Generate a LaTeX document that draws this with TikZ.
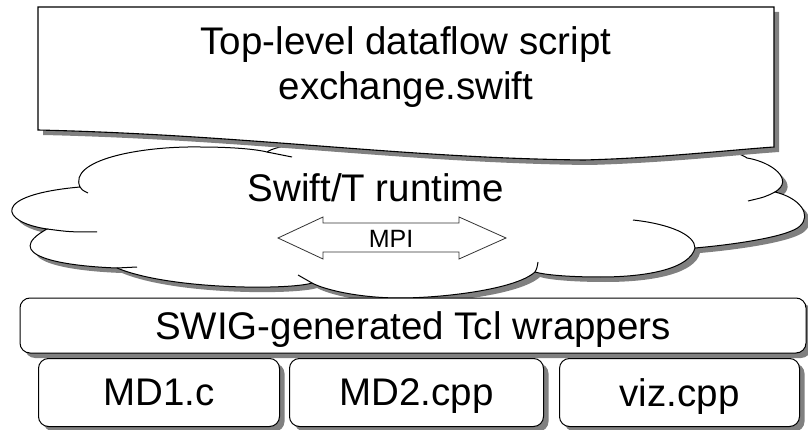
\documentclass[tikz,border=0pt]{standalone}
\usepackage{fontspec}
\setmainfont{Liberation Sans}
\usepackage{tikz}
\usetikzlibrary{positioning,shadows}
\tikzstyle{shadowed} = [drop shadow={shadow xshift=5pt, shadow yshift=-5pt, fill=black!50, opacity=1}]
\tikzstyle{docshape} = [draw, fill=white, line width=1.1pt, shadowed]
\tikzstyle{cloudshape} = [draw, fill=white, line width=1pt, shadowed]
\tikzstyle{layerbox} = [draw, fill=white, rounded corners=10pt, line width=1pt, minimum width=786pt, minimum height=55pt, inner sep=0pt, text depth=0pt, shadowed]
\tikzstyle{filebox} = [draw, fill=white, rounded corners=10pt, line width=1pt, minimum height=68pt, inner sep=0pt, text depth=0pt, shadowed]
\newcommand{\bigfont}{\fontsize{38.5}{45}\selectfont}
\newcommand{\smallfont}{\fontsize{25}{30}\selectfont}

\begin{document}
\begin{tikzpicture}[x=1pt, y=-1pt, font=\bigfont]
    \useasboundingbox (0,0) rectangle (808,430);

    % The cloud goes first, the script box hides its top
    \draw [cloudshape] (80,187)
        .. controls (68,160) and (140,146) .. (200,147)
        .. controls (230,147) and (255,149) .. (267,152)
        .. controls (300,128) and (700,125) .. (747,158)
        .. controls (772,162) and (795,180) .. (775,192)
        .. controls (800,198) and (812,215) .. (800,226)
        .. controls (790,236) and (740,244) .. (695,248)
        .. controls (690,268) and (650,277) .. (600,277)
        .. controls (570,277) and (545,275) .. (535,272)
        .. controls (515,290) and (440,298) .. (400,298)
        .. controls (360,298) and (325,290) .. (312,283)
        .. controls (290,290) and (170,290) .. (117,268)
        .. controls (60,266) and (0,255) .. (47,229)
        .. controls (0,222) and (-10,195) .. (80,187)
        -- cycle;
    % inner ends of the puffs
    \draw [line width=1pt] (80,187) .. controls (82,190) .. (88,193);
    \draw [line width=1pt] (267,152) .. controls (280,154) .. (292,157);
    \draw [line width=1pt] (47,229) .. controls (70,232) .. (97,232);
    \draw [line width=1pt] (117,268) .. controls (127,268) .. (137,267);
    \draw [line width=1pt] (312,283) .. controls (305,279) .. (298,275);
    \draw [line width=1pt] (535,272) .. controls (537,268) .. (538,262);
    \draw [line width=1pt] (695,248) .. controls (695,235) and (670,224) .. (633,220);
    \draw [line width=1pt] (775,192) .. controls (765,197) .. (748,201);

    % Script box with the wavy bottom
    \draw [docshape] (38,7) -- (774,7) -- (774,147)
        .. controls (730,150) and (660,158) .. (584,160)
        .. controls (400,158) and (250,135) .. (38,130) -- cycle;
    \node [align=center, inner sep=0pt] (script) at (406,67.5)
        {Top-level dataflow script\\exchange.swift};

    % Runtime and the MPI arrow
    \node [anchor=base, inner sep=0pt] (runtime) at (376,202) {Swift/T runtime};
    \node [anchor=base, inner sep=0pt, font=\smallfont] (mpi) at (391,248) {MPI};
    \draw [line width=0.8pt, draw=black!80] (278,238) -- (323,217) -- (323,223)
        -- (459,223) -- (459,217) -- (506,238) -- (459,259) -- (459,252)
        -- (323,252) -- (323,259) -- cycle;

    % Wrapper layer and the native codes
    \node [layerbox] (swig) at (413,325.5) {SWIG-generated Tcl wrappers};
    \node [filebox, minimum width=241pt, anchor=north west] (md1) at (38,358) {MD1.c};
    \node [filebox, minimum width=254pt, right=9pt of md1] (md2) {MD2.cpp};
    \node [filebox, minimum width=240pt, right=15pt of md2] (viz) {viz.cpp};
\end{tikzpicture}
\end{document}
